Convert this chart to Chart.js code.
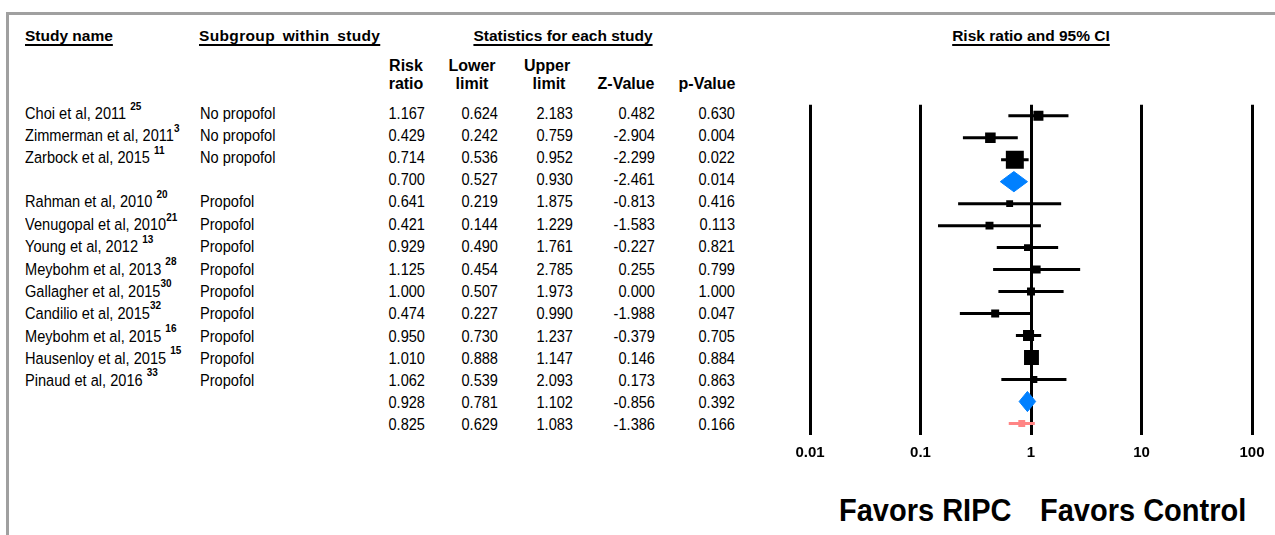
<!DOCTYPE html>
<html lang="en">

<head>
    <meta charset="UTF-8">
    <title>Forest plot - Risk ratio</title>
    <script src="https://cdn.jsdelivr.net/npm/chart.js@4.4.0/dist/chart.umd.min.js"></script>
    <style>
        body {
            margin: 0;
            width: 1275px;
            height: 535px;
            overflow: hidden;
            background: #fff;
            font-family: 'Liberation Sans', Arial, sans-serif;
            color: #000;
            position: relative;
        }

        .frame {
            position: absolute;
            left: 6px;
            top: 12px;
            width: 1300px;
            height: 600px;
            border-top: 3px solid #a0a0a0;
            border-left: 3px solid #a0a0a0;
        }

        .t {
            position: absolute;
            font-size: 14.6px;
            line-height: 16px;
            white-space: nowrap;
            transform: scaleY(1.1);
        }

        .t.c {
            transform: translateX(-50%) scaleY(1.1);
        }

        .b {
            font-weight: bold;
            font-size: 16px;
        }

        .t.b {
            transform: none;
        }

        .t.c.b {
            transform: translateX(-50%);
        }

        .h {
            font-size: 15.5px;
        }

        .u {
            text-decoration: underline;
            text-decoration-thickness: 2px;
            text-underline-offset: 3px;
        }

        sup {
            font-size: 10px;
            font-weight: bold;
            line-height: 0;
            position: relative;
            top: -3px;
        }

        .favors {
            font-size: 29px;
            line-height: 32px;
            font-weight: bold;
        }

        #plotBox {
            position: absolute;
            left: 780px;
            top: 92px;
            width: 495px;
            height: 385px;
        }
    </style>
</head>

<body>
    <div class="frame"></div>
    <div id="table"></div>
    <div id="plotBox"><canvas id="forest"></canvas></div>

    <script>
        // ---- data ----
        const studyNames = [
            'Choi et al, 2011', 'Zimmerman et al, 2011', 'Zarbock et al, 2015', '',
            'Rahman et al, 2010', 'Venugopal et al, 2010', 'Young et al, 2012', 'Meybohm et al, 2013',
            'Gallagher et al, 2015', 'Candilio et al, 2015', 'Meybohm et al, 2015', 'Hausenloy et al, 2015',
            'Pinaud et al, 2016', '', ''
        ];
        const refs = ['25', '3', '11', '', '20', '21', '13', '28', '30', '32', '16', '15', '33', '', ''];
        const refSpace = [true, false, true, false, true, false, true, true, false, false, true, true, true, false, false];
        const subgroups = [
            'No propofol', 'No propofol', 'No propofol', '',
            'Propofol', 'Propofol', 'Propofol', 'Propofol', 'Propofol', 'Propofol', 'Propofol', 'Propofol', 'Propofol', '', ''
        ];
        const rowKind = ['study', 'study', 'study', 'subtotal',
            'study', 'study', 'study', 'study', 'study', 'study', 'study', 'study', 'study', 'subtotal', 'overall'];
        const riskRatio = [1.167, 0.429, 0.714, 0.700, 0.641, 0.421, 0.929, 1.125, 1.000, 0.474, 0.950, 1.010, 1.062, 0.928, 0.825];
        const lowerLimit = [0.624, 0.242, 0.536, 0.527, 0.219, 0.144, 0.490, 0.454, 0.507, 0.227, 0.730, 0.888, 0.539, 0.781, 0.629];
        const upperLimit = [2.183, 0.759, 0.952, 0.930, 1.875, 1.229, 1.761, 2.785, 1.973, 0.990, 1.237, 1.147, 2.093, 1.102, 1.083];
        const zValue = [0.482, -2.904, -2.299, -2.461, -0.813, -1.583, -0.227, 0.255, 0.000, -1.988, -0.379, 0.146, 0.173, -0.856, -1.386];
        const pValue = [0.630, 0.004, 0.022, 0.014, 0.416, 0.113, 0.821, 0.799, 1.000, 0.047, 0.705, 0.884, 0.863, 0.392, 0.166];
        // relative weights
        const relWeight = [19, 21, 61, 0, 9, 12, 9, 12, 12, 12, 23, 42, 9, 0, 9];
        const axisTicks = [0.01, 0.1, 1, 10, 100];

        // ---- table text ----
        const table = document.getElementById('table');
        function addText(html, x, y, cls, align) {
            const d = document.createElement('div');
            d.className = 't ' + (cls || '');
            d.innerHTML = html;
            d.style.top = (y - 8) + 'px';
            if (align === 'right') {
                d.style.right = (1275 - x) + 'px';
            } else if (align === 'center') {
                d.classList.add('c');
                d.style.left = x + 'px';
            } else {
                d.style.left = x + 'px';
            }
            table.appendChild(d);
            return d;
        }

        addText('Study name', 25, 36, 'b h u');
        const sg = addText('Subgroup within study', 199, 36, 'b h u');
        sg.style.wordSpacing = '3px';
        sg.style.letterSpacing = '0.35px';
        addText('Statistics for each study', 563, 36, 'b h u', 'center');
        addText('Risk ratio and 95% CI', 1031, 36, 'b h u', 'center');
        addText('Risk', 406, 66, 'b', 'center');
        addText('ratio', 406, 84, 'b', 'center');
        addText('Lower', 472, 66, 'b', 'center');
        addText('limit', 472, 84, 'b', 'center');
        addText('Upper', 547, 66, 'b', 'center');
        addText('limit', 549, 84, 'b', 'center');
        addText('Z-Value', 626, 84, 'b', 'center');
        addText('p-Value', 707, 84, 'b', 'center');

        const rowY = i => 113.5 + 22.2 * i;
        studyNames.forEach((name, i) => {
            const y = rowY(i);
            if (name) {
                addText(name + (refSpace[i] ? ' ' : '') + '<sup>' + refs[i] + '</sup>', 25, y);
                addText(subgroups[i], 200, y);
            }
            addText(riskRatio[i].toFixed(3), 425, y, '', 'right');
            addText(lowerLimit[i].toFixed(3), 498, y, '', 'right');
            addText(upperLimit[i].toFixed(3), 573, y, '', 'right');
            addText(zValue[i].toFixed(3), 655, y, '', 'right');
            addText(pValue[i].toFixed(3), 735, y, '', 'right');
        });

        const f1 = addText('Favors RIPC', 839, 510, 'favors');
        const f2 = addText('Favors Control', 1040, 510, 'favors');
        f1.style.top = f2.style.top = '494px';

        // ---- forest plot ----
        const ink = '#000000';
        const diamondBlue = '#0080ff';
        const overallPink = '#ff8585';

        const datasets = [];
        const boxPoints = [];
        const boxSizes = [];
        const boxColors = [];

        riskRatio.forEach((rr, i) => {
            const kind = rowKind[i];
            if (kind === 'subtotal') {
                // summary diamond
                datasets.push({
                    data: [
                        { x: lowerLimit[i], y: i },
                        { x: rr, y: i - 0.46 },
                        { x: upperLimit[i], y: i },
                        { x: rr, y: i + 0.46 },
                        { x: lowerLimit[i], y: i }
                    ],
                    showLine: true,
                    fill: 'shape',
                    backgroundColor: diamondBlue,
                    borderColor: diamondBlue,
                    borderWidth: 1,
                    pointRadius: 0,
                    tension: 0,
                    order: 1
                });
                return;
            }
            const col = kind === 'overall' ? overallPink : ink;
            datasets.push({
                data: [{ x: lowerLimit[i], y: i }, { x: upperLimit[i], y: i }],
                showLine: true,
                borderColor: col,
                borderWidth: 3,
                pointRadius: 0,
                order: 2
            });
            boxPoints.push({ x: rr, y: i });
            boxSizes.push(2.3 * Math.sqrt(relWeight[i]) / Math.SQRT2);
            boxColors.push(col);
        });

        datasets.push({
            data: boxPoints,
            pointStyle: 'rect',
            pointRadius: boxSizes,
            pointBackgroundColor: boxColors,
            pointBorderWidth: 0,
            order: 0
        });

        new Chart(document.getElementById('forest'), {
            type: 'scatter',
            data: { datasets: datasets },
            options: {
                responsive: true,
                maintainAspectRatio: false,
                animation: false,
                events: [],
                layout: { padding: { left: 30, right: 23, top: 3.5, bottom: 6.5 } },
                plugins: {
                    legend: { display: false },
                    tooltip: { enabled: false }
                },
                scales: {
                    x: {
                        type: 'logarithmic',
                        min: 0.01,
                        max: 100,
                        afterBuildTicks: axis => {
                            axis.ticks = axisTicks.map(v => ({ value: v }));
                        },
                        grid: {
                            color: ink,
                            lineWidth: 3,
                            drawTicks: false
                        },
                        border: { display: false },
                        ticks: {
                            color: ink,
                            padding: 9,
                            maxRotation: 0,
                            font: { family: "'Liberation Sans', Arial, sans-serif", size: 15, weight: 'bold' },
                            callback: v => String(v)
                        }
                    },
                    y: {
                        type: 'linear',
                        reverse: true,
                        min: -0.5,
                        max: 14.5,
                        display: false
                    }
                }
            }
        });
    </script>
</body>

</html>
